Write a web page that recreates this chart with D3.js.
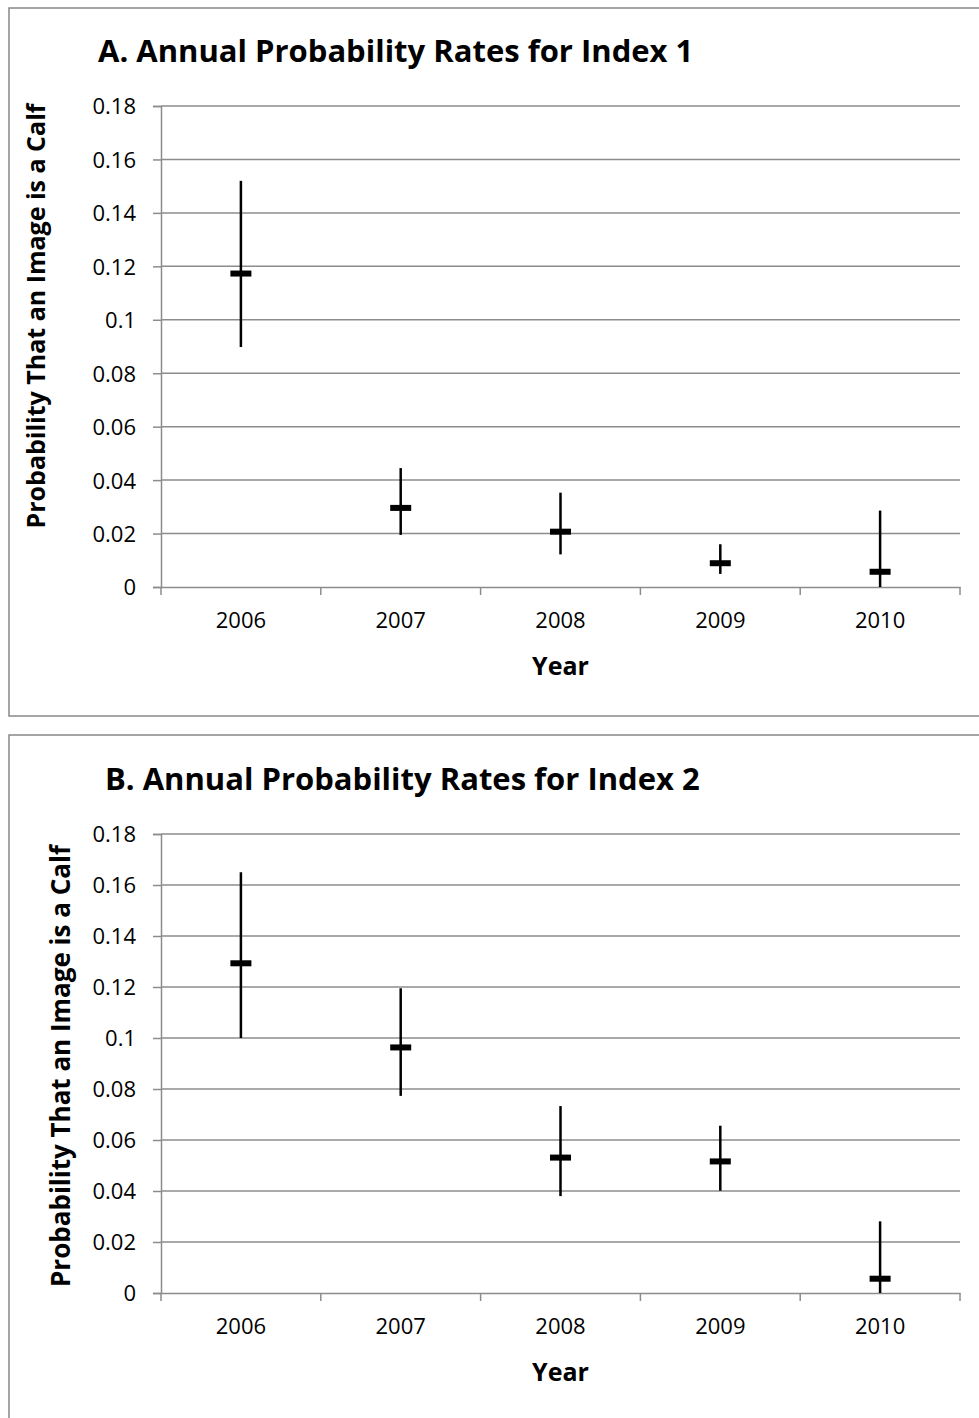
<!DOCTYPE html>
<html>
<head>
<meta charset="utf-8">
<script src="https://cdn.jsdelivr.net/npm/d3@7"></script>
<style>
  body { margin: 0; background: #fff; }
  svg { display: block; }
  text { font-family: 'Open Sans', sans-serif; fill: #000; }
</style>
</head>
<body>
<div id="chart"></div>
<script>
const years = ['2006', '2007', '2008', '2009', '2010']
const yTicks = [0, 0.02, 0.04, 0.06, 0.08, 0.1, 0.12, 0.14, 0.16, 0.18]

// Index 1
const index1Mean = [0.1173, 0.0296, 0.0207, 0.0089, 0.0057]
const index1Low = [0.0898, 0.0195, 0.0122, 0.0049, 0]
const index1High = [0.152, 0.0445, 0.0353, 0.016, 0.0286]

// Index 2
const index2Mean = [0.1293, 0.0963, 0.0531, 0.0516, 0.0056]
const index2Low = [0.1, 0.0773, 0.038, 0.0401, 0]
const index2High = [0.165, 0.1195, 0.0733, 0.0656, 0.0281]

const width = 979
const height = 1418

const svg = d3
  .select('#chart')
  .append('svg')
  .attr('width', width)
  .attr('height', height)

const panels = [
  {
    title: 'A. Annual Probability Rates for Index 1',
    mean: index1Mean,
    low: index1Low,
    high: index1High,
    box: { x: 9, y: 8, h: 708 },
    titleX: 98,
    titleY: 62,
    labelX: 45,
    labelY: 316,
    labelSize: 25,
    top: 106,
    bottom: 587
  },
  {
    title: 'B. Annual Probability Rates for Index 2',
    mean: index2Mean,
    low: index2Low,
    high: index2High,
    box: { x: 9, y: 735, h: 720 },
    titleX: 105,
    titleY: 790,
    labelX: 70,
    labelY: 1066,
    labelSize: 26,
    top: 834,
    bottom: 1293
  }
]

const left = 161
const right = 960

panels.forEach(function(p) {
  const g = svg.append('g')

  g.append('rect')
    .attr('x', p.box.x)
    .attr('y', p.box.y)
    .attr('width', 1000)
    .attr('height', p.box.h)
    .attr('fill', 'none')
    .attr('stroke', '#888')
    .attr('stroke-width', 1.5)

  g.append('text')
    .attr('x', p.titleX)
    .attr('y', p.titleY)
    .style('font-size', '31px')
    .style('font-weight', 700)
    .text(p.title)

  const x = d3.scaleBand().domain(years).range([left, right])
  const y = d3.scaleLinear().domain([0, 0.18]).range([p.bottom, p.top])

  // gridlines
  g.append('g')
    .selectAll('line')
    .data(yTicks.filter(d => d > 0))
    .enter()
    .append('line')
    .attr('x1', left)
    .attr('x2', right)
    .attr('y1', d => y(d))
    .attr('y2', d => y(d))
    .attr('stroke', '#8c8c8c')
    .attr('stroke-width', 1.5)

  // y axis
  const yAxis = g
    .append('g')
    .attr('transform', 'translate(' + left + ',0)')
    .call(
      d3
        .axisLeft(y)
        .tickValues(yTicks)
        .tickSize(8)
        .tickPadding(17)
        .tickFormat(d => String(+d.toFixed(2)))
    )
  yAxis.selectAll('.domain').attr('stroke', '#8c8c8c').attr('stroke-width', 1.5)
  yAxis.selectAll('.tick line').attr('stroke', '#8c8c8c').attr('stroke-width', 1.5)
  yAxis
    .selectAll('.tick text')
    .style('font-size', '22px')
    .attr('font-family', null)
    .attr('dy', '0.36em')

  // x axis
  const xAxis = g
    .append('g')
    .attr('transform', 'translate(0,' + p.bottom + ')')
    .call(d3.axisBottom(x).tickSize(0).tickPadding(25))
  xAxis.selectAll('.domain').attr('stroke', '#8c8c8c').attr('stroke-width', 1.5)
  xAxis
    .selectAll('.tick text')
    .style('font-size', '22px')
    .attr('font-family', null)

  // category boundary ticks
  const bounds = years.map(d => x(d)).concat([right])
  g.append('g')
    .selectAll('line')
    .data(bounds)
    .enter()
    .append('line')
    .attr('x1', d => d)
    .attr('x2', d => d)
    .attr('y1', p.bottom)
    .attr('y2', p.bottom + 8)
    .attr('stroke', '#8c8c8c')
    .attr('stroke-width', 1.5)

  g.append('text')
    .attr('x', (left + right) / 2)
    .attr('y', p.bottom + 88)
    .attr('text-anchor', 'middle')
    .style('font-size', '25px')
    .style('font-weight', 700)
    .text('Year')

  g.append('text')
    .attr('transform', 'translate(' + p.labelX + ',' + p.labelY + ') rotate(-90)')
    .attr('text-anchor', 'middle')
    .style('font-size', p.labelSize + 'px')
    .style('font-weight', 700)
    .text('Probability That an Image is a Calf')

  const cx = d => x(d) + x.bandwidth() / 2

  // error bars
  g.append('g')
    .selectAll('line')
    .data(years)
    .enter()
    .append('line')
    .attr('x1', cx)
    .attr('x2', cx)
    .attr('y1', (d, i) => y(p.high[i]))
    .attr('y2', (d, i) => y(p.low[i]))
    .attr('stroke', '#000')
    .attr('stroke-width', 2.5)

  // mean markers
  g.append('g')
    .selectAll('rect')
    .data(years)
    .enter()
    .append('rect')
    .attr('x', d => cx(d) - 10.5)
    .attr('y', (d, i) => y(p.mean[i]) - 3)
    .attr('width', 21)
    .attr('height', 6)
    .attr('fill', '#000')
})
</script>
</body>
</html>
